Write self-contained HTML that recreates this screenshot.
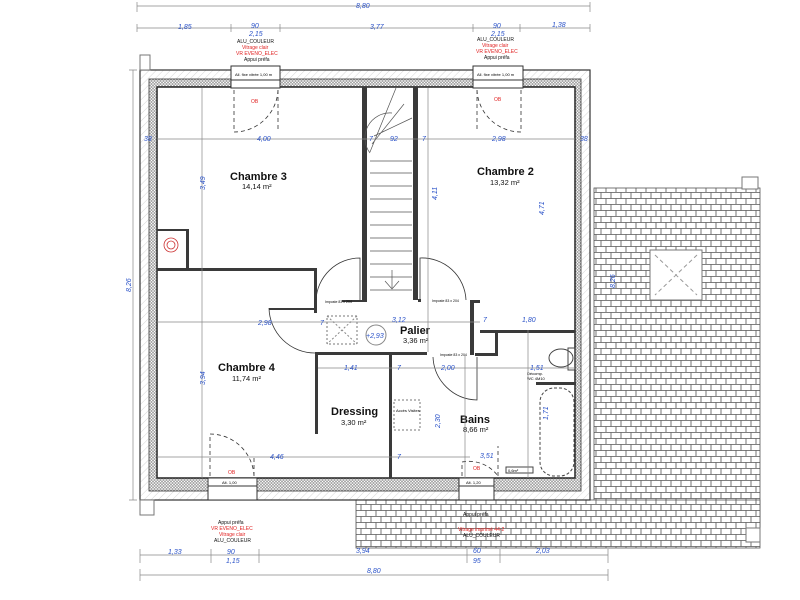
<!DOCTYPE html>
<html><head><meta charset="utf-8"><style>
html,body{margin:0;padding:0;background:#fff;}
svg{display:block;font-family:"Liberation Sans",sans-serif;}
.d{fill:#2a52c8;font-style:italic;font-size:7px;}
.dl{stroke:#888;stroke-width:0.7;fill:none;}
.w{fill:#3a3a3a;}
.r{fill:#e02020;font-size:5px;}
.k{fill:#111;font-size:5px;}
.big{font-weight:bold;font-size:11px;fill:#111;}
.sm{font-size:7.5px;fill:#111;}
</style></head><body>
<svg width="800" height="600" viewBox="0 0 800 600" xmlns="http://www.w3.org/2000/svg">
<defs>
<pattern id="hatch" width="5" height="5" patternUnits="userSpaceOnUse" patternTransform="rotate(45)">
<rect width="5" height="5" fill="#fff"/><line x1="0" y1="0" x2="0" y2="5" stroke="#ccc" stroke-width="0.8"/></pattern>
<pattern id="ins" width="3" height="3" patternUnits="userSpaceOnUse">
<rect width="3" height="3" fill="#fff"/><circle cx="1.5" cy="1.5" r="1.1" fill="none" stroke="#555" stroke-width="0.5"/></pattern>
<pattern id="tile" width="10" height="12" patternUnits="userSpaceOnUse">
<rect width="10" height="12" fill="#fff"/>
<path d="M0 0.5H10M0 6.5H10M1 0.5V6.5M6 6.5V12.5" stroke="#555" stroke-width="0.8" fill="none"/></pattern>
</defs>

<rect x="594" y="188" width="166" height="340" fill="url(#tile)" stroke="#555" stroke-width="0.8"/>
<rect x="356" y="500" width="404" height="48" fill="url(#tile)" stroke="#555" stroke-width="0.8"/>
<rect x="650" y="250" width="52" height="50" fill="#fff" stroke="#777"/>
<path d="M655 255L697 295M697 255L655 295" stroke="#999" stroke-dasharray="4 3"/>
<rect x="742" y="177" width="16" height="12" fill="#fff" stroke="#777"/>
<rect x="746" y="528" width="14" height="14" fill="#fff" stroke="#777"/>
<text class="d" transform="translate(615,288) rotate(-90)">8,26</text>

<rect x="140" y="70" width="450" height="430" fill="url(#hatch)" stroke="#333" stroke-width="1.2"/>
<rect x="149" y="79" width="432" height="412" fill="url(#ins)" stroke="#333" stroke-width="0.8"/>
<rect x="157" y="87" width="418" height="391" fill="#fff" stroke="#222" stroke-width="1.5"/>
<rect x="140" y="55" width="10" height="15" fill="#fff" stroke="#777"/>
<rect x="140" y="500" width="14" height="15" fill="#fff" stroke="#777"/>

<rect x="231" y="66" width="49" height="22" fill="#fff" stroke="#333"/>
<line x1="231" y1="80" x2="280" y2="80" stroke="#333"/>
<text x="235" y="76" style="font-size:4px">All. fixe vitrée 1,00 m</text>
<rect x="473" y="66" width="50" height="22" fill="#fff" stroke="#333"/>
<line x1="473" y1="80" x2="523" y2="80" stroke="#333"/>
<text x="477" y="76" style="font-size:4px">All. fixe vitrée 1,00 m</text>
<rect x="208" y="478" width="49" height="22" fill="#fff" stroke="#333"/>
<line x1="208" y1="486" x2="257" y2="486" stroke="#333"/>
<text x="222" y="484" style="font-size:4px">Alt. 1,00</text>
<rect x="459" y="478" width="35" height="22" fill="#fff" stroke="#333"/>
<line x1="459" y1="486" x2="494" y2="486" stroke="#333"/>
<text x="466" y="484" style="font-size:4px">Alt. 1,20</text>

<g stroke="#333" stroke-width="0.8" fill="none" stroke-dasharray="4 3">
<path d="M234 90V132M278 90V132M234 132A44 44 0 0 0 278 90"/>
<path d="M477 90V132M521 90V132M521 132A44 44 0 0 1 477 90"/>
<path d="M210 476V434M254 476V456M210 434A44 44 0 0 1 254 476"/>
<path d="M462 476V462M498 476V446M462 462A36 36 0 0 1 498 476"/>
</g>
<text class="r" x="251" y="103">OB</text><text class="r" x="494" y="101">OB</text>
<text class="r" x="228" y="474">OB</text><text class="r" x="473" y="470">OB</text>

<rect x="362" y="87" width="5" height="213" class="w"/>
<rect x="413" y="87" width="5" height="213" class="w"/>
<g stroke="#555" stroke-width="0.7">
<path d="M370 161H412M370 173H412M370 186H412M370 199H412M370 212H412M370 225H412M370 238H412M370 251H412M370 264H412M370 277H412M370 290H412"/>
<path d="M370 152L396 88M372 144L404 104M374 136L412 118"/>
<path d="M392 270V288M385 281L392 289L399 281" fill="none"/>
<path d="M370 153A25 25 0 0 1 392 113" fill="none"/>
</g>

<g class="w">
<rect x="157" y="268" width="160" height="3"/>
<rect x="314" y="268" width="3" height="45"/>
<rect x="186" y="230" width="3" height="40"/>
<rect x="157" y="229" width="32" height="2"/>
<rect x="269" y="308" width="46" height="2"/>
<rect x="315" y="352" width="112" height="3"/>
<rect x="315" y="352" width="3" height="82"/>
<rect x="389" y="352" width="3" height="126"/>
<rect x="418" y="299" width="3" height="3"/>
<rect x="470" y="300" width="4" height="55"/>
<rect x="470" y="300" width="10" height="3"/>
<rect x="475" y="353" width="23" height="3"/>
<rect x="495" y="330" width="3" height="25"/>
<rect x="480" y="330" width="95" height="3"/>
<rect x="536" y="382" width="40" height="3"/>
<rect x="342" y="300" width="25" height="2"/>
</g>
<circle cx="171" cy="245" r="7" fill="none" stroke="#c33" stroke-width="0.8"/>
<circle cx="171" cy="245" r="4" fill="none" stroke="#c33" stroke-width="0.8"/>
<g stroke="#333" stroke-width="0.8" fill="none">
<path d="M316 300A44 44 0 0 1 360 258V300"/>
<path d="M420 300V258A44 44 0 0 1 466 300"/>
<path d="M269 308A46 46 0 0 0 315 353"/>
<path d="M433 357A45 45 0 0 0 477 400V357"/>
</g>
<rect x="327" y="316" width="30" height="28" fill="none" stroke="#777" stroke-dasharray="2 2"/>
<path d="M327 316L357 344M357 316L327 344" stroke="#888" stroke-dasharray="2 2"/>
<circle cx="376" cy="335" r="10" fill="none" stroke="#888"/>
<text class="d" x="366" y="338">+2,93</text>
<rect x="394" y="400" width="26" height="30" fill="none" stroke="#777" stroke-dasharray="2 2"/>
<text style="font-size:4px" x="396" y="412">Accès Visites</text>
<rect x="540" y="388" width="34" height="88" rx="14" fill="none" stroke="#444" stroke-dasharray="3 2"/>
<ellipse cx="561" cy="358" rx="12" ry="9" fill="none" stroke="#444"/>
<rect x="568" y="348" width="7" height="22" fill="none" stroke="#444"/>
<rect x="506" y="467" width="27" height="6" fill="none" stroke="#444"/>
<text style="font-size:4px" x="508" y="472">0,6m²</text>
<text style="font-size:4px" x="527" y="375">Décomp.</text>
<text style="font-size:4px" x="527" y="380">WC 4M10</text>
<text style="font-size:3.5px" x="325" y="303">Imposte 83 x 204</text>
<text style="font-size:3.5px" x="432" y="302">Imposte 83 x 204</text>
<text style="font-size:3.5px" x="440" y="356">Imposte 83 x 204</text>

<text class="big" x="230" y="180">Chambre 3</text><text class="sm" x="242" y="189">14,14 m²</text>
<text class="big" x="477" y="175">Chambre 2</text><text class="sm" x="490" y="185">13,32 m²</text>
<text class="big" x="218" y="371">Chambre 4</text><text class="sm" x="232" y="381">11,74 m²</text>
<text class="big" x="400" y="334">Palier</text><text class="sm" x="403" y="343">3,36 m²</text>
<text class="big" x="331" y="415">Dressing</text><text class="sm" x="341" y="425">3,30 m²</text>
<text class="big" x="460" y="423">Bains</text><text class="sm" x="463" y="432">8,66 m²</text>

<g class="dl" stroke="#aaa">
<path d="M157 139H575M157 322H480M318 368H575M157 457H470M202 88V478M428 88V352M465 355V478M528 330V478"/>
</g>
<text class="d" x="144" y="141">38</text><text class="d" x="257" y="141">4,00</text>
<text class="d" x="369" y="141">7</text><text class="d" x="390" y="141">92</text><text class="d" x="422" y="141">7</text>
<text class="d" x="492" y="141">2,98</text><text class="d" x="580" y="141">38</text>
<text class="d" x="258" y="325">2,98</text><text class="d" x="320" y="325">7</text><text class="d" x="392" y="322">3,12</text>
<text class="d" x="483" y="322">7</text><text class="d" x="522" y="322">1,80</text>
<text class="d" x="344" y="370">1,41</text><text class="d" x="397" y="370">7</text><text class="d" x="441" y="370">2,00</text><text class="d" x="530" y="370">1,51</text>
<text class="d" x="270" y="459">4,46</text><text class="d" x="397" y="459">7</text><text class="d" x="480" y="458">3,51</text>
<text class="d" transform="translate(205,190) rotate(-90)">3,49</text>
<text class="d" transform="translate(205,385) rotate(-90)">3,94</text>
<text class="d" transform="translate(437,200) rotate(-90)">4,11</text>
<text class="d" transform="translate(544,215) rotate(-90)">4,71</text>
<text class="d" transform="translate(440,428) rotate(-90)">2,30</text>
<text class="d" transform="translate(548,420) rotate(-90)">1,71</text>

<g class="dl">
<path d="M137 6H590M137 28H590"/>
<path d="M137 2V12M590 2V12M137 24V32M231 24V32M280 24V32M473 24V32M520 24V32M590 24V32"/>
</g>
<text class="d" x="356" y="8">8,80</text>
<text class="d" x="178" y="29">1,85</text><text class="d" x="251" y="28">90</text><text class="d" x="249" y="36">2,15</text>
<text class="d" x="370" y="29">3,77</text><text class="d" x="493" y="28">90</text><text class="d" x="491" y="36">2,15</text><text class="d" x="552" y="27">1,38</text>
<text class="k" x="237" y="43">ALU_COULEUR</text><text class="r" x="242" y="49">Vitrage clair</text>
<text class="r" x="236" y="55">VR EVENO_ELEC</text><text class="k" x="244" y="61">Appui préfa</text>
<text class="k" x="477" y="41">ALU_COULEUR</text><text class="r" x="482" y="47">Vitrage clair</text>
<text class="r" x="476" y="53">VR EVENO_ELEC</text><text class="k" x="484" y="59">Appui préfa</text>

<path class="dl" d="M133 70V500M129 70H137M129 500H137"/>
<text class="d" transform="translate(131,292) rotate(-90)">8,26</text>

<text class="k" x="218" y="524">Appui préfa</text><text class="r" x="211" y="530">VR EVENO_ELEC</text>
<text class="r" x="219" y="536">Vitrage clair</text><text class="k" x="214" y="542">ALU_COULEUR</text>
<text class="k" x="463" y="516">Appui préfa</text><text class="r" x="458" y="531">Vitrage imprimé 44-2</text>
<text class="k" x="463" y="537">ALU_COULEUR</text>

<g class="dl">
<path d="M140 555H608M140 563V549M211 563V549M259 563V549M467 563V549M500 563V549M608 563V549"/>
<path d="M140 575H608M140 581V569M608 581V569"/>
</g>
<text class="d" x="168" y="554">1,33</text><text class="d" x="227" y="554">90</text><text class="d" x="226" y="563">1,15</text>
<text class="d" x="356" y="553">3,94</text><text class="d" x="473" y="553">60</text><text class="d" x="473" y="563">95</text>
<text class="d" x="536" y="553">2,03</text><text class="d" x="367" y="573">8,80</text>
</svg>
</body></html>
